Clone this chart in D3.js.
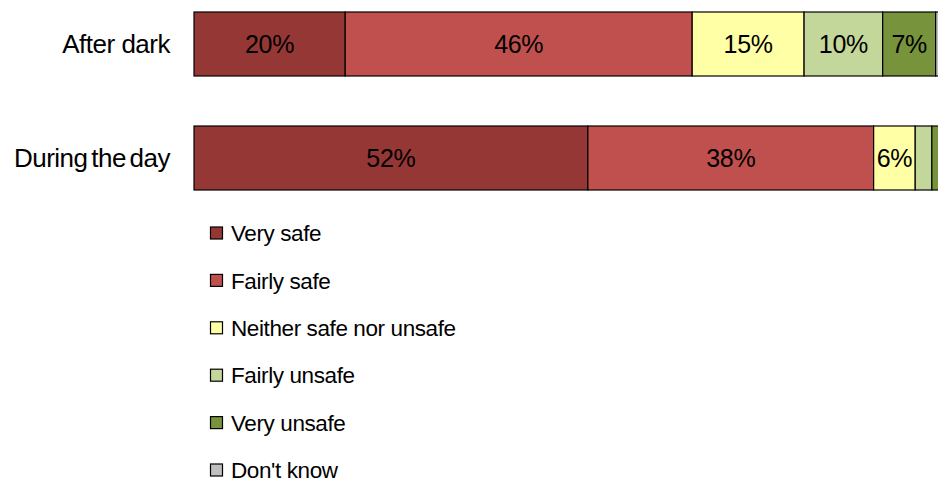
<!DOCTYPE html>
<html>
<head>
<meta charset="utf-8">
<script src="https://cdn.jsdelivr.net/npm/d3@7"></script>
<style>
  body { margin: 0; background: #fff; }
  svg { display: block; font-family: "Liberation Sans", Arial, sans-serif; }
</style>
</head>
<body>
<svg id="chart" width="938" height="483"></svg>
<script>
const categories = ["After dark", "During the day"];
const answers = ["Very safe", "Fairly safe", "Neither safe nor unsafe", "Fairly unsafe", "Very unsafe", "Don't know"];
const colors = ["#953735", "#C0504D", "#FFFFA6", "#C4D79B", "#77933C", "#BFBFBF"];
// percent per answer, same order as answers
const afterDark = [20, 45.9, 14.8, 10.4, 7.0, 1.9];
const duringDay = [52.1, 37.8, 5.5, 2.2, 1.5, 0.9];

const rows = [afterDark, duringDay];

const svg = d3.select("#chart");

const x = d3.scaleLinear().domain([0, 100]).range([194, 950]);
const y = d3.scaleBand().domain(categories).range([12, 190]).paddingInner(0.4386).paddingOuter(0);

const stackData = categories.map((c, i) => {
  let acc = 0;
  return rows[i].map((v, j) => {
    const seg = { cat: c, key: answers[j], color: colors[j], x0: acc, x1: acc + v, value: v };
    acc += v;
    return seg;
  });
});

const g = svg.append("g");

const bars = g.selectAll("g.bar").data(stackData).enter().append("g").attr("class", "bar");

bars.selectAll("rect").data(d => d).enter().append("rect")
  .attr("x", d => x(d.x0))
  .attr("y", d => y(d.cat))
  .attr("width", d => x(d.x1) - x(d.x0))
  .attr("height", y.bandwidth())
  .attr("fill", d => d.color)
  .attr("stroke", "#000")
  .attr("stroke-width", 1.2);

bars.selectAll("text").data(d => d.filter(s => s.value >= 5)).enter().append("text")
  .attr("x", d => (x(d.x0) + x(d.x1)) / 2)
  .attr("y", d => y(d.cat) + y.bandwidth() / 2)
  .attr("text-anchor", "middle")
  .attr("dy", ".36em")
  .attr("font-size", 25)
  .attr("letter-spacing", -0.3)
  .attr("fill", "#000")
  .text(d => Math.round(d.value) + "%");

// category labels
g.selectAll("text.cat").data(categories).enter().append("text")
  .attr("class", "cat")
  .attr("x", 170)
  .attr("y", d => y(d) + y.bandwidth() / 2)
  .attr("dy", ".36em")
  .attr("text-anchor", "end")
  .attr("font-size", 26)
  .attr("letter-spacing", -0.5)
  .attr("word-spacing", (d, i) => i === 0 ? 0 : -3)
  .text(d => d);

// legend
const ly = d3.scalePoint().domain(answers).range([233, 470]);
const legend = svg.append("g").selectAll("g").data(answers).enter().append("g")
  .attr("transform", d => `translate(210,${ly(d)})`);

legend.append("rect")
  .attr("x", 0.5).attr("y", -6)
  .attr("width", 12).attr("height", 12)
  .attr("fill", (d, i) => colors[i])
  .attr("stroke", "#000")
  .attr("stroke-width", 1.2);

legend.append("text")
  .attr("x", 21)
  .attr("dy", ".36em")
  .attr("font-size", 22.5)
  .attr("letter-spacing", -0.4)
  .text(d => d);
</script>
</body>
</html>
